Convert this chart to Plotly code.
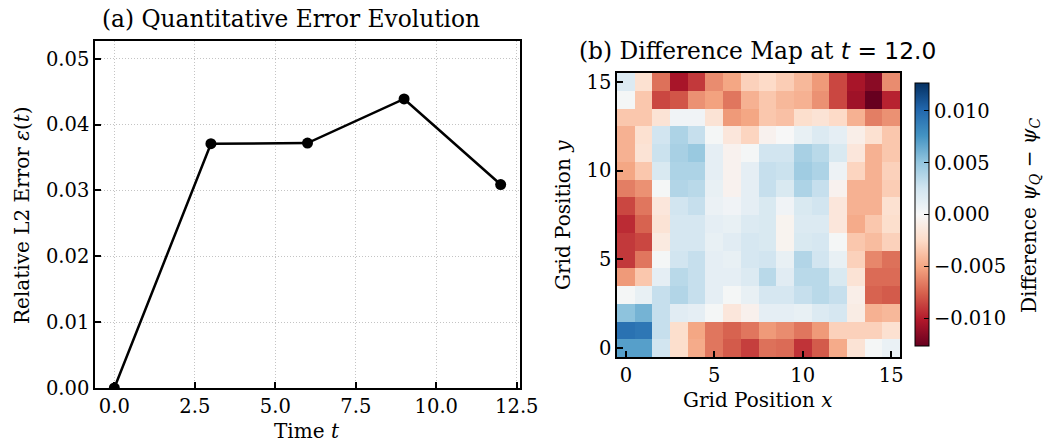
import plotly.graph_objects as go

# ---- data: panel (a) ----
time_t = [0, 3, 6, 9, 12]
rel_l2_error = [0.0, 0.0371, 0.0372, 0.0439, 0.0309]

# ---- data: panel (b) difference map (row 0 = y 0, bottom) ----
grid_x = list(range(16))
grid_y = list(range(16))
diff_rows = [
    [0.007, 0.007, 0.0025, -0.0022, -0.0048, -0.0068, -0.0078, -0.0088, -0.007, -0.0072, -0.0092, -0.0078, -0.0048, -0.0018, 0.0002, 0.0009],
    [0.0095, 0.0092, 0.003, -0.0022, -0.005, -0.0068, -0.0075, -0.0068, -0.0055, -0.006, -0.0068, -0.0055, -0.003, -0.003, -0.003, -0.002],
    [0.0052, 0.006, 0.003, 0.0015, 0.0012, 0.0002, -0.0015, -0.0006, 0.0012, 0.0012, 0.001, 0.0018, 0.0022, -0.001, -0.0045, -0.0042],
    [0.0002, 0.001, 0.003, 0.0038, 0.003, 0.0012, 0.0002, 0.001, 0.0022, 0.0022, 0.003, 0.0035, 0.003, -0.0008, -0.0075, -0.0078],
    [-0.0055, -0.0035, 0.0012, 0.0035, 0.003, 0.0012, 0.0012, 0.0018, 0.0035, 0.0015, 0.0035, 0.0035, 0.002, -0.0018, -0.0072, -0.0072],
    [-0.009, -0.0068, 0.0002, 0.0025, 0.003, 0.0012, 0.001, 0.0022, 0.0025, 0.001, 0.0038, 0.0025, 0.001, -0.003, -0.0062, -0.007],
    [-0.009, -0.0085, -0.0012, 0.0022, 0.0022, 0.001, 0.0015, 0.0022, 0.002, -0.0004, 0.002, 0.0022, 0.0002, -0.0035, -0.004, -0.003],
    [-0.0095, -0.0075, -0.0018, 0.0022, 0.0022, 0.0012, 0.001, 0.0018, 0.002, -0.0004, 0.0018, 0.0018, -0.0015, -0.0048, -0.0035, -0.0022],
    [-0.0085, -0.0068, -0.0015, 0.0025, 0.003, 0.0008, 0.0005, 0.0012, 0.002, 0.0005, 0.002, 0.0025, -0.0015, -0.0045, -0.0045, -0.002],
    [-0.0065, -0.0058, 0.0002, 0.0038, 0.0035, 0.001, -0.0005, 0.0012, 0.003, 0.002, 0.004, 0.003, -0.0005, -0.0045, -0.0045, -0.0032],
    [-0.005, -0.0035, 0.002, 0.004, 0.004, 0.0012, -0.0005, 0.0012, 0.003, 0.0028, 0.0045, 0.004, 0.0007, -0.0028, -0.0045, -0.003],
    [-0.0045, -0.0018, 0.0028, 0.0042, 0.0048, 0.0012, -0.0005, 0.0002, 0.0025, 0.0025, 0.0042, 0.0035, 0.002, -0.0015, -0.0045, -0.0035],
    [-0.0045, -0.002, 0.0025, 0.004, 0.003, 0.0002, -0.0015, -0.0028, -0.0005, 0.0, 0.001, 0.0018, 0.0012, -0.0008, -0.002, -0.0035],
    [-0.0035, -0.0035, -0.0018, 0.0005, 0.0005, -0.0018, -0.0055, -0.005, -0.0035, -0.0038, -0.0022, -0.0018, -0.0025, -0.0045, -0.0065, -0.0058],
    [0.0002, -0.0035, -0.0085, -0.008, -0.0058, -0.0052, -0.0068, -0.0045, -0.0035, -0.0042, -0.0045, -0.0058, -0.0085, -0.0108, -0.0127, -0.0098],
    [0.0018, -0.002, -0.007, -0.0105, -0.009, -0.006, -0.005, -0.003, -0.0025, -0.0032, -0.0042, -0.0055, -0.0085, -0.0105, -0.0115, -0.006],
]
cbar_tickvals = [-0.010, -0.005, 0.0, 0.005, 0.010]
cbar_ticktext = ["\u22120.010", "\u22120.005", "0.000", "0.005", "0.010"]

rdbu = ['rgb(103,0,31)', 'rgb(178,24,43)', 'rgb(214,96,77)', 'rgb(244,165,130)',
        'rgb(253,219,199)', 'rgb(247,247,247)', 'rgb(209,229,240)', 'rgb(146,197,222)',
        'rgb(67,147,195)', 'rgb(33,102,172)', 'rgb(5,48,97)']
colorscale = [[i / 10, c] for i, c in enumerate(rdbu)]

W, H = 1044, 442
FONT = "DejaVu Serif"
TICK = 19.5
LBL = 20
TTL = 23.3

def px(x):
    return x / W

def py(y):
    return 1 - y / H

fig = go.Figure()

fig.add_trace(go.Scatter(
    x=time_t, y=rel_l2_error, mode="lines+markers",
    line=dict(color="black", width=2.5),
    marker=dict(color="black", size=11),
    xaxis="x", yaxis="y", showlegend=False,
))

zmax = 0.0127
fig.add_trace(go.Heatmap(
    x=grid_x, y=grid_y, z=diff_rows,
    colorscale=colorscale, zmin=-zmax, zmax=zmax,
    xaxis="x2", yaxis="y2",
    colorbar=dict(
        x=px(915), xanchor="left", xref="paper",
        y=py(214.5), yanchor="middle", yref="paper",
        len=(346 - 83) / H, lenmode="fraction",
        thickness=14, thicknessmode="pixels",
        outlinecolor="black", outlinewidth=1,
        tickvals=cbar_tickvals, ticktext=cbar_ticktext,
        ticks="inside", ticklen=5, tickwidth=1, tickcolor="black",
        tickfont=dict(family=FONT, size=TICK, color="black"),
        xpad=0, ypad=0,
    ),
))

axis_common = dict(
    showline=True, linecolor="black", linewidth=1.5, mirror=True,
    ticks="inside", ticklen=6, tickwidth=1.5, tickcolor="black",
    tickfont=dict(family=FONT, size=TICK, color="black"),
    zeroline=False, automargin=False,
)
grid_style = dict(showgrid=True, gridcolor="#c4c4c4", griddash="1px,2px", gridwidth=1)

fig.update_layout(
    width=W, height=H,
    margin=dict(l=0, r=0, t=0, b=0, pad=0),
    paper_bgcolor="white", plot_bgcolor="white",
    font=dict(family=FONT, color="black"),
    xaxis=dict(domain=[px(95), px(520)], range=[-0.6, 12.6],
               tickvals=[0, 2.5, 5, 7.5, 10, 12.5], tickformat=".1f",
               anchor="y", **grid_style, **axis_common),
    yaxis=dict(domain=[py(388), py(41)], range=[0, 0.0527],
               tickvals=[0, 0.01, 0.02, 0.03, 0.04, 0.05], tickformat=".2f",
               anchor="x", **grid_style, **axis_common),
    xaxis2=dict(domain=[px(617), px(900)], range=[-0.5, 15.5],
                tickvals=[0, 5, 10, 15], showgrid=False, anchor="y2", **axis_common),
    yaxis2=dict(domain=[py(357), py(73)], range=[-0.5, 15.5],
                tickvals=[0, 5, 10, 15], showgrid=False, anchor="x2", **axis_common),
)

SANS = "font-family:'DejaVu Sans'"
ann = [
    dict(text="(a) Quantitative Error Evolution", x=px(291), y=py(19), size=TTL, angle=0),
    dict(text="(b) Difference Map at <span style=\"" + SANS + "\"><i>t</i> = 12.0</span>",
         x=px(757), y=py(50), size=TTL, angle=0),
    dict(text="Time <i>t</i>", x=px(307), y=py(431), size=LBL, angle=0),
    dict(text="Relative L2 Error <i>ε</i>(<i>t</i>)", x=px(22), y=py(215), size=LBL, angle=-90),
    dict(text="Grid Position <i>x</i>", x=px(757), y=py(400), size=LBL, angle=0),
    dict(text="Grid Position <i>y</i>", x=px(563), y=py(215), size=LBL, angle=-90),
    dict(text="Difference <i>ψ</i><sub><i>Q</i></sub> \u2212 <i>ψ</i><sub><i>C</i></sub>",
         x=px(1030), y=py(215), size=LBL, angle=-90),
]
for a in ann:
    fig.add_annotation(text=a["text"], x=a["x"], y=a["y"], xref="paper", yref="paper",
                       xanchor="center", yanchor="middle", showarrow=False,
                       textangle=a["angle"], font=dict(family=FONT, size=a["size"], color="black"))

fig.write_html("out.html")
